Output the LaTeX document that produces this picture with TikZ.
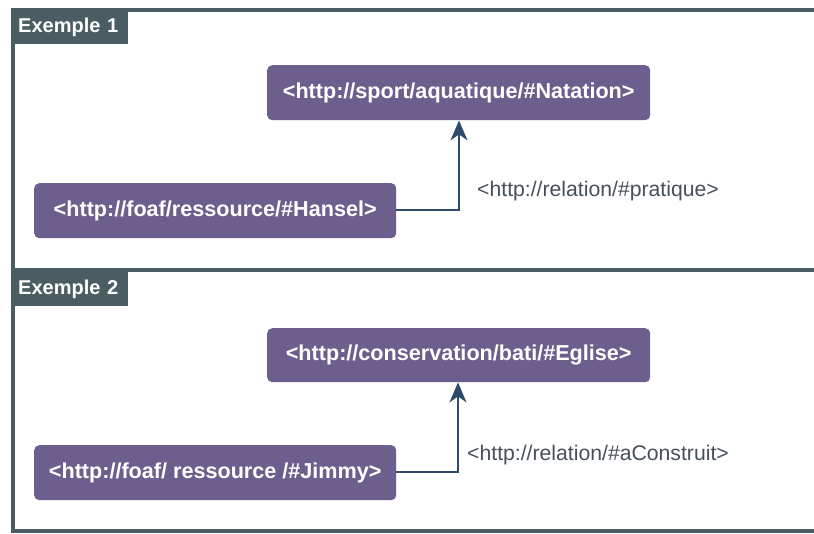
\documentclass[tikz,border=0pt]{standalone}
\usepackage{fontspec}
\setmainfont{Liberation Sans}
\definecolor{frame}{HTML}{4A5D63}
\definecolor{boxfill}{HTML}{6C5F8D}
\definecolor{arrowc}{HTML}{2E4B6B}
\definecolor{labelc}{HTML}{46505A}
\usetikzlibrary{arrows.meta}
\tikzset{
  uri/.style={draw=none, fill=boxfill, rounded corners=5pt, text=white,
    font=\fontsize{21.6}{24}\selectfont\bfseries, inner sep=0pt, anchor=north west},
  tab/.style={fill=frame, text=white, font=\fontsize{20}{24}\selectfont\bfseries,
    anchor=north west, inner sep=0pt, minimum height=34pt, text width=103pt, align=left,
    inner xsep=7pt},
  rel/.style={text=labelc, font=\fontsize{21.2}{24}\selectfont, anchor=west, inner sep=0pt},
  conn/.style={draw=arrowc, line width=1.6pt, -{Stealth[length=20pt,width=17pt,inset=6pt]}},
  border/.style={draw=frame, line width=4.5pt}
}
\begin{document}
\begin{tikzpicture}[x=1pt,y=-1pt]
\useasboundingbox[fill=white] (0,0) rectangle (814,534);
% frame
\draw[border] (814,10) -- (13,10) -- (13,531) -- (814,531);
\draw[border] (13,270) -- (814,270);
% tabs
\node[tab] (t1) at (11,10) {Exemple 1};
\node[tab] (t2) at (11,272) {Exemple 2};
% example 1
\node[uri, minimum width=383pt, minimum height=55pt] (nat) at (267,65) {<http://sport/aquatique/\#Natation>};
\node[uri, minimum width=362pt, minimum height=55pt] (han) at (34,183) {<http://foaf/ressource/\#Hansel>};
\coordinate (c1) at (459,210);
\draw[conn] (han.east |- c1) -- (c1) -- (c1 |- nat.south);
\node[rel] (r1) at (477,191) {<http://relation/\#pratique>};
% example 2
\node[uri, minimum width=383pt, minimum height=54pt] (egl) at (267,328) {<http://conservation/bati/\#Eglise>};
\node[uri, minimum width=362pt, minimum height=55pt] (jim) at (34,445) {<http://foaf/ ressource /\#Jimmy>};
\coordinate (c2) at (458,472);
\draw[conn] (jim.east |- c2) -- (c2) -- (c2 |- egl.south);
\node[rel] (r2) at (467,455) {<http://relation/\#aConstruit>};
\end{tikzpicture}
\end{document}
